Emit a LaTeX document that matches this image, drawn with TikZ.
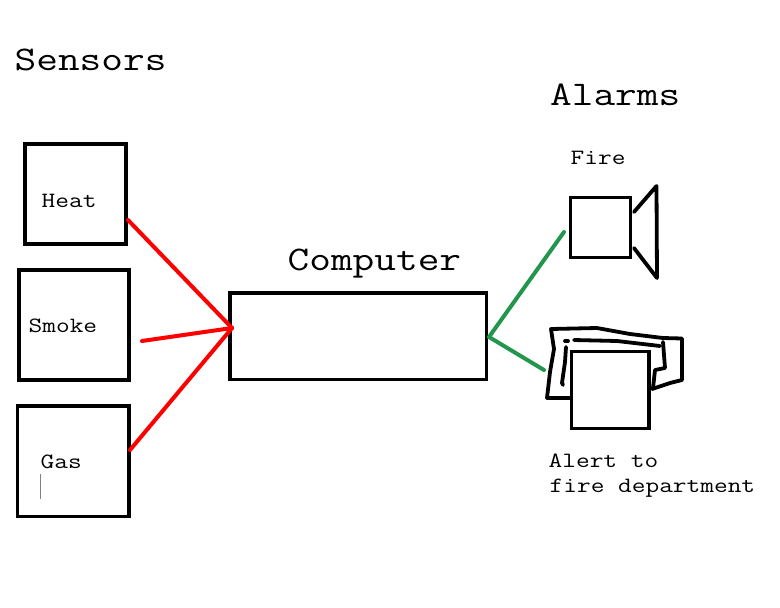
\documentclass[tikz,border=0pt]{standalone}
\usepackage{fontspec}
\setmonofont[FakeStretch=1.22]{Latin Modern Mono}
\definecolor{wirered}{RGB}{255,0,0}
\definecolor{wiregreen}{RGB}{34,150,76}
\tikzset{
  box/.style={draw=black,line width=3.8pt,minimum width=0pt,minimum height=0pt,inner sep=0pt,outer sep=0pt},
  ink/.style={draw=black,line width=3.8pt,line join=round,line cap=round},
  head/.style={anchor=base west,inner sep=0pt,font=\ttfamily\fontsize{34.5}{38}\selectfont},
  small/.style={anchor=base west,inner sep=0pt,font=\ttfamily\fontsize{21.8}{24}\selectfont},
  redwire/.style={draw=wirered,line width=4pt,line cap=round},
  greenwire/.style={draw=wiregreen,line width=4pt,line cap=round}
}
\begin{document}
\begin{tikzpicture}[x=1pt,y=-1pt]
\useasboundingbox (0,0) rectangle (780,608);
\node[box,minimum width=100.5pt,minimum height=100pt] (heat) at (75.5,194.2) {};
\node[box,minimum width=110pt,minimum height=110pt] (smoke) at (74.2,325.2) {};
\node[box,minimum width=111.5pt,minimum height=110.5pt] (gas) at (73.25,461.3) {};
\node[box,minimum width=256.5pt,minimum height=86.5pt] (computer) at (358.3,336.3) {};
\node[box,minimum width=60pt,minimum height=60pt] (speaker) at (600.5,227.5) {};
\node[box,minimum width=77.7pt,minimum height=77pt] (printer) at (610.3,390) {};
\node[head] (tsensors) at (14.5,70) {Sensors};
\node[head] (talarms) at (550,105) {Alarms};
\node[head] (tcomputer) at (287.5,270) {Computer};
\node[small] (tfire) at (570.5,164) {Fire};
\node[small] (theat) at (41.5,207) {Heat};
\node[small] (tsmoke) at (28.5,332) {Smoke};
\node[small] (tgas) at (40.5,468) {Gas};
\node[small] (talert) at (548.5,467) {Alert to};
\node[small] (tdept) at (549.5,492) {fire department};
\coordinate (hub) at (232,328);
\coordinate (smokeend) at (142,341);
\coordinate (out) at (489,337);
\coordinate (fireend) at (564,232);
\coordinate (printend) at (544,370);
\coordinate (heatend) at (128,220);
\coordinate (gasend) at (130,450);
\draw[redwire] (heatend) -- (hub);
\draw[redwire] (smokeend) -- (hub);
\draw[redwire] (gasend) -- (hub);
\draw[greenwire] (out) -- (fireend);
\draw[greenwire] (out) -- (printend);
% speaker cone
\draw[ink] (634,212) -- (656.5,186) -- (657,278) -- (634,248);
% printer, freehand
\draw[ink] (570,398) -- (547,398) -- (550,372) -- (554,349) -- (551,329) -- (597,328) -- (630,334) -- (663,338) -- (682,338.5) -- (682,380) -- (670,383) -- (652,389);
\draw[ink] (563,385) -- (562,383) -- (565,362) -- (566,347);
\draw[ink] (565,341) -- (568,341);
\draw[ink] (574,340) -- (617,341) -- (660,346);
\draw[ink] (663,342) -- (665,368) -- (655,370) -- (653,388);
\draw[draw=gray,line width=1pt] (40.5,474) -- (40.5,499);
\end{tikzpicture}
\end{document}
